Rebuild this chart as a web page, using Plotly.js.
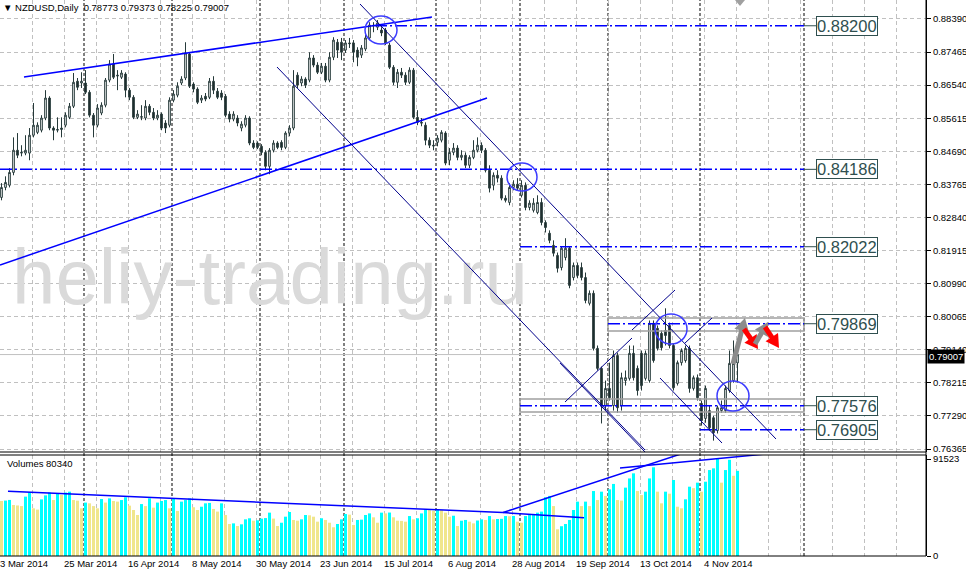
<!DOCTYPE html>
<html><head><meta charset="utf-8">
<script src="https://cdn.plot.ly/plotly-3.0.1.min.js"></script>
<style>html,body{margin:0;padding:0;background:#fff}#chart{width:966px;height:575px}</style>
</head><body><div id="chart"></div>
<script>
// ---- data (NZDUSD daily, 3 Mar 2014 .. 14 Nov 2014, bar index 0..184) ----
const open = [0.8340,0.8368,0.8374,0.8410,0.8472,0.8464,0.8464,0.8464,0.8514,0.8522,
0.8528,0.8562,0.8618,0.8534,0.8528,0.8530,0.8542,0.8564,0.8595,0.8665,
0.8660,0.8660,0.8634,0.8570,0.8542,0.8576,0.8598,0.8668,0.8713,0.8682,
0.8676,0.8685,0.8640,0.8620,0.8564,0.8564,0.8562,0.8595,0.8578,0.8562,
0.8573,0.8548,0.8542,0.8612,0.8626,0.8660,0.8674,0.8741,0.8657,0.8643,
0.8612,0.8623,0.8620,0.8665,0.8637,0.8632,0.8623,0.8573,0.8559,0.8562,
0.8534,0.8542,0.8562,0.8492,0.8492,0.8483,0.8466,0.8427,0.8472,0.8492,
0.8494,0.8480,0.8520,0.8534,0.8682,0.8660,0.8671,0.8668,0.8730,0.8710,
0.8690,0.8707,0.8668,0.8732,0.8774,0.8774,0.8752,0.8772,0.8772,0.8752,
0.8738,0.8755,0.8786,0.8819,0.8816,0.8808,0.8808,0.8766,0.8704,0.8662,
0.8690,0.8682,0.8662,0.8696,0.8564,0.8550,0.8542,0.8500,0.8486,0.8494,
0.8500,0.8520,0.8444,0.8466,0.8478,0.8452,0.8458,0.8430,0.8452,0.8472,
0.8486,0.8472,0.8416,0.8374,0.8402,0.8394,0.8338,0.8326,0.8368,0.8377,
0.8346,0.8374,0.8312,0.8304,0.8298,0.8326,0.8270,0.8240,0.8206,0.8178,
0.8144,0.8172,0.8198,0.8116,0.8150,0.8144,0.8116,0.8044,0.8072,0.7918,
0.7862,0.7758,0.7806,0.7758,0.7898,0.7758,0.7828,0.7834,0.7904,0.7862,
0.7904,0.7834,0.7828,0.7988,0.7974,0.7960,0.7968,0.7982,0.7926,0.7820,
0.7878,0.7884,0.7918,0.7806,0.7836,0.7764,0.7722,0.7744,0.7724,0.7688,
0.7744,0.7744,0.7800,0.7828,0.78773];
const high = [0.8380,0.8399,0.8422,0.8508,0.8520,0.8486,0.8514,0.8534,0.8604,0.8550,
0.8570,0.8640,0.8623,0.8539,0.8564,0.8564,0.8578,0.8604,0.8688,0.8674,
0.8690,0.8696,0.8640,0.8576,0.8601,0.8606,0.8674,0.8724,0.8741,0.8696,
0.8696,0.8690,0.8646,0.8626,0.8584,0.8598,0.8612,0.8601,0.8590,0.8584,
0.8578,0.8556,0.8620,0.8640,0.8662,0.8679,0.8774,0.8746,0.8662,0.8648,
0.8626,0.8632,0.8674,0.8679,0.8646,0.8640,0.8629,0.8581,0.8581,0.8570,
0.8553,0.8570,0.8567,0.8500,0.8497,0.8489,0.8472,0.8478,0.8500,0.8497,
0.8500,0.8525,0.8542,0.8696,0.8690,0.8679,0.8676,0.8746,0.8738,0.8718,
0.8716,0.8716,0.8746,0.8788,0.8783,0.8786,0.8780,0.8786,0.8780,0.8760,
0.8766,0.8794,0.8830,0.8830,0.8836,0.8816,0.8814,0.8772,0.8710,0.8699,
0.8702,0.8690,0.8704,0.8702,0.8584,0.8562,0.8550,0.8508,0.8500,0.8514,
0.8528,0.8525,0.8478,0.8492,0.8486,0.8472,0.8466,0.8458,0.8500,0.8508,
0.8494,0.8478,0.8430,0.8410,0.8416,0.8402,0.8346,0.8380,0.8388,0.8394,
0.8388,0.8382,0.8332,0.8338,0.8346,0.8338,0.8276,0.8248,0.8220,0.8186,
0.8203,0.8226,0.8203,0.8158,0.8158,0.8158,0.8130,0.8080,0.8080,0.7926,
0.7867,0.7828,0.7878,0.7912,0.7906,0.7850,0.7856,0.7926,0.7926,0.7870,
0.7912,0.7912,0.7996,0.7996,0.7982,0.7968,0.8030,0.7990,0.7932,0.7884,
0.7918,0.7926,0.7926,0.7842,0.7845,0.7772,0.7814,0.7758,0.7730,0.7758,
0.7772,0.7814,0.7912,0.7940,0.79373];
const low = [0.8332,0.8360,0.8368,0.8402,0.8450,0.8455,0.8458,0.8444,0.8508,0.8517,
0.8522,0.8556,0.8528,0.8500,0.8522,0.8508,0.8536,0.8559,0.8590,0.8640,
0.8646,0.8629,0.8564,0.8508,0.8536,0.8570,0.8592,0.8662,0.8671,0.8640,
0.8671,0.8620,0.8612,0.8559,0.8559,0.8556,0.8556,0.8570,0.8556,0.8556,
0.8528,0.8520,0.8536,0.8606,0.8620,0.8654,0.8668,0.8646,0.8634,0.8601,
0.8604,0.8609,0.8615,0.8629,0.8615,0.8612,0.8564,0.8550,0.8553,0.8539,
0.8525,0.8536,0.8486,0.8475,0.8475,0.8458,0.8416,0.8405,0.8466,0.8475,
0.8472,0.8475,0.8511,0.8528,0.8646,0.8651,0.8646,0.8662,0.8704,0.8685,
0.8685,0.8662,0.8662,0.8724,0.8730,0.8724,0.8744,0.8758,0.8718,0.8707,
0.8730,0.8749,0.8780,0.8802,0.8808,0.8791,0.8766,0.8699,0.8654,0.8646,
0.8674,0.8654,0.8657,0.8559,0.8542,0.8539,0.8486,0.8478,0.8472,0.8483,
0.8494,0.8430,0.8430,0.8458,0.8444,0.8444,0.8422,0.8422,0.8447,0.8466,
0.8464,0.8410,0.8354,0.8360,0.8382,0.8332,0.8326,0.8318,0.8360,0.8360,
0.8340,0.8304,0.8304,0.8298,0.8293,0.8262,0.8242,0.8212,0.8175,0.8130,
0.8136,0.8164,0.8086,0.8108,0.8114,0.8108,0.8044,0.8038,0.7912,0.7856,
0.7708,0.7744,0.7772,0.7744,0.7738,0.7744,0.7814,0.7828,0.7828,0.7786,
0.7800,0.7828,0.7822,0.7878,0.7912,0.7912,0.7926,0.7918,0.7800,0.7814,
0.7870,0.7878,0.7794,0.7800,0.7772,0.7702,0.7710,0.7688,0.7660,0.7680,
0.7738,0.7738,0.7794,0.7822,0.78225];
const close = [0.8368,0.8382,0.8410,0.8472,0.8458,0.8466,0.8472,0.8514,0.8542,0.8542,
0.8562,0.8618,0.8534,0.8528,0.8530,0.8534,0.8570,0.8595,0.8662,0.8648,
0.8665,0.8634,0.8570,0.8542,0.8590,0.8598,0.8668,0.8713,0.8676,0.8680,
0.8688,0.8640,0.8620,0.8564,0.8573,0.8566,0.8595,0.8578,0.8562,0.8570,
0.8534,0.8534,0.8612,0.8629,0.8651,0.8671,0.8744,0.8651,0.8643,0.8606,
0.8618,0.8615,0.8665,0.8640,0.8620,0.8620,0.8570,0.8559,0.8573,0.8548,
0.8545,0.8562,0.8492,0.8480,0.8480,0.8466,0.8427,0.8472,0.8492,0.8480,
0.8480,0.8520,0.8534,0.8651,0.8654,0.8671,0.8654,0.8730,0.8710,0.8690,
0.8707,0.8668,0.8732,0.8780,0.8752,0.8746,0.8772,0.8770,0.8746,0.8732,
0.8758,0.8786,0.8822,0.8821,0.8828,0.8800,0.8772,0.8704,0.8662,0.8690,
0.8682,0.8662,0.8696,0.8564,0.8550,0.8548,0.8500,0.8486,0.8484,0.8506,
0.8522,0.8436,0.8466,0.8478,0.8452,0.8458,0.8430,0.8452,0.8472,0.8486,
0.8472,0.8416,0.8366,0.8402,0.8394,0.8338,0.8332,0.8368,0.8377,0.8366,
0.8374,0.8312,0.8324,0.8324,0.8326,0.8270,0.8256,0.8220,0.8184,0.8142,
0.8198,0.8198,0.8094,0.8150,0.8122,0.8116,0.8052,0.8072,0.7918,0.7862,
0.7758,0.7806,0.7780,0.7898,0.7752,0.7836,0.7836,0.7904,0.7836,0.7800,
0.7814,0.7904,0.7988,0.7884,0.7918,0.7920,0.7954,0.7926,0.7808,0.7878,
0.7912,0.7918,0.7806,0.7836,0.7780,0.7716,0.7806,0.7696,0.7682,0.7752,
0.7752,0.7806,0.7876,0.7876,0.79007];
const volume = [51900,52300,52900,48100,47700,47100,56000,59900,45000,43800,
53400,57200,59900,52800,58600,57500,59900,60700,52800,52200,
45000,50400,49700,47100,45000,53800,50400,54400,51900,51300,
52800,55400,47500,43400,38700,49000,47100,54400,45600,50400,
51900,52800,45000,54400,42500,51300,52800,54400,46000,43400,
46500,49700,50100,44400,41900,49700,38700,30200,30800,28300,
29900,34600,35600,33300,33700,35300,35800,40900,35300,28300,
31400,37100,41500,34000,33300,34600,38700,38400,37100,32400,
35600,34000,31400,27100,30200,34600,39600,39000,29200,34000,
34300,38700,40200,36500,31400,40900,40200,41000,36500,33300,
33100,32400,37700,34600,35600,40200,44000,43400,42700,44000,
43400,40900,37100,38000,28300,33300,34000,32400,30800,33500,
34600,34000,37700,34600,34900,35100,37700,37500,37800,32400,
31400,37700,38700,39600,40900,41900,55400,56700,47100,25200,
28100,30200,34000,43400,51300,47100,51300,47100,61300,52800,
60700,56700,62900,68000,52800,52300,64500,73200,78000,61300,
57500,60700,73200,83700,60700,49700,60700,58800,71700,46500,
45000,53500,65400,64000,69200,60700,70100,81100,82700,91523,
69200,81100,90800,75700,80340];
const dateLabels = ["3 Mar 2014","25 Mar 2014","16 Apr 2014","8 May 2014","30 May 2014","23 Jun 2014",
  "15 Jul 2014","6 Aug 2014","28 Aug 2014","19 Sep 2014","13 Oct 2014","4 Nov 2014"];
const priceTicks = [0.76365,0.77290,0.78215,0.79140,0.80065,0.80990,0.81915,0.82840,0.83765,0.84690,0.85615,0.86540,0.87465,0.88390];
const levels = [0.88200,0.84186,0.82022,0.79869,0.77576,0.76905];
const lastQuote = {open:0.78773, high:0.79373, low:0.78225, close:0.79007, volume:80340};

// ---- drawing setup (positions / styles) ----
const idx = close.map((_, i) => i);
const XR = [-0.375, 231.125], YR = [0.76282, 0.88921];
const gridX = []; const gridText = [];
for (let k = 0; k <= 28; k++) { gridX.push(k * 8 - 0.375); gridText.push(k % 2 === 0 && k / 2 < dateLabels.length ? dateLabels[k / 2] : ''); }
const volColors = volume.map((v, i) => (i > 0 && v > volume[i - 1]) ? '#00ffff' : '#f0e68c');
const FONT = 'Liberation Sans, Arial, sans-serif';
const levelStart = [93.375, -0.375, 129.625, 151.625, 129.625, 174.625];
const levelEnd = 200.625, labelX = 203.625;
const separators = [20.625, 42.625, 64.625, 85.625, 108.625, 129.625, 151.625, 174.625, 200.625];
const PX = px => px / 4 - 0.375;
const PY = py => YR[1] - py * (YR[1] - YR[0]) / 452;

const shapes = [];
separators.forEach(x => shapes.push({type:'line', xref:'x', yref:'paper', x0:x, x1:x, y0:0, y1:1, layer:'below', line:{color:'#000', width:1, dash:'3px,2px'}}));
shapes.push({type:'line', xref:'x', yref:'y', x0:XR[0], x1:XR[1], y0:lastQuote.close, y1:lastQuote.close, layer:'below', line:{color:'#c0c0c0', width:1}});
shapes.push({type:'rect', xref:'x', yref:'y', x0:151.625, x1:200.625, y0:0.79665, y1:0.80029, line:{color:'#a0a0a0', width:1.5}});
shapes.push({type:'rect', xref:'x', yref:'y', x0:129.625, x1:200.625, y0:0.77400, y1:0.77764, line:{color:'#a0a0a0', width:1.5}});
levels.forEach((lv, k) => {
  shapes.push({type:'line', xref:'x', yref:'y', x0:levelStart[k], x1:levelEnd, y0:lv, y1:lv, line:{color:'#0000ff', width:1.5, dash:'12px,3px,2px,3px'}});
  shapes.push({type:'line', xref:'x', yref:'y', x0:levelEnd, x1:labelX, y0:lv, y1:lv, line:{color:'#2f4f4f', width:1}});
});
const tl = (x0,y0,x1,y1,c,w) => shapes.push({type:'line', xref:'x', yref:'y', x0, y0, x1, y1, line:{color:c, width:w}});
tl(5.625,0.86768,107.625,0.88446,'#0000ff',1.5);
tl(-0.375,0.81511,121.375,0.86181,'#0000ff',1.5);
tl(89.625,0.88809,193.625,0.76645,'#00008b',1);
tl(68.875,0.87047,160.875,0.76338,'#00008b',1);
tl(139.625,0.78770,160.875,0.76282,'#00008b',1);
tl(140.875,0.77680,157.625,0.79469,'#00008b',1);
tl(157.625,0.79693,168.375,0.80812,'#00008b',1);
tl(170.875,0.79330,177.625,0.80029,'#00008b',1);
tl(164.625,0.78351,180.125,0.76533,'#00008b',1);
const vl = (x0,y0,x1,y1) => shapes.push({type:'line', xref:'x2', yref:'y2', x0, y0, x1, y1, line:{color:'#0000ff', width:1.5}});
vl(1.625,61000,125.375,41000);
vl(125.375,41000,169.625,96000);
vl(125.375,41000,145.625,36000);
vl(154.625,83000,190.375,96000);
const cir = (x0,x1,y0,y1) => shapes.push({type:'circle', xref:'x', yref:'y', x0, x1, y0, y1, line:{color:'#3c3cff', width:1.5}});
cir(90.875,98.875,0.87691,0.88474);
cir(126.375,133.875,0.83580,0.84363);
cir(163.375,171.375,0.79302,0.80141);
cir(178.875,186.875,0.77428,0.78267);
function arrow(tx, ty, hx, hy, color) {
  const dx = hx - tx, dy = hy - ty, L = Math.hypot(dx, dy), ux = dx / L, uy = dy / L;
  const bx = hx - 13 * ux, by = hy - 13 * uy, nx = -uy, ny = ux;
  shapes.push({type:'line', xref:'x', yref:'y', x0:PX(tx), y0:PY(ty), x1:PX(bx + 2*ux), y1:PY(by + 2*uy), line:{color, width:5}});
  shapes.push({type:'path', xref:'x', yref:'y', fillcolor:color, line:{width:0},
    path:`M ${PX(hx)} ${PY(hy)} L ${PX(bx + 7.5*nx)} ${PY(by + 7.5*ny)} L ${PX(bx - 7.5*nx)} ${PY(by - 7.5*ny)} Z`});
}
arrow(733, 364, 745, 318, '#8c8c8c');
arrow(744, 329, 758, 349, '#ff0000');
arrow(755, 344, 768, 322, '#8c8c8c');
arrow(765, 327, 779, 348, '#ff0000');
shapes.push({type:'path', xref:'x', yref:'y', path:`M ${PX(735)} ${PY(0)} L ${PX(745)} ${PY(0)} L ${PX(740)} ${PY(6)} Z`, fillcolor:'#a0a0a0', line:{width:0}});
const pl = (x0,y0,x1,y1) => shapes.push({type:'line', xref:'paper', yref:'paper', x0, y0, x1, y1, line:{color:'#000', width:1}});
pl(0,0.18705,1,0.18705); pl(0,0.18165,1,0.18165); pl(0,0,1,0); pl(1,0,1,1);

const annotations = [];
levels.forEach(lv => annotations.push({xref:'x', yref:'y', x:labelX, y:lv, xanchor:'left', yanchor:'middle', text:lv.toFixed(5), showarrow:false,
  font:{family:FONT, size:16.5, color:'#2f4f4f'}, bgcolor:'#ffffff', bordercolor:'#2f4f4f', borderwidth:1, borderpad:0}));
annotations.push({xref:'paper', yref:'y', x:1, xshift:1, y:lastQuote.close, yshift:-2, xanchor:'left', yanchor:'middle', text:lastQuote.close.toFixed(5), showarrow:false,
  font:{family:FONT, size:9.5, color:'#ffffff'}, bgcolor:'#000000', borderpad:1});
annotations.push({xref:'paper', yref:'paper', x:0.0054, y:1 - 463/556, xanchor:'left', yanchor:'middle', text:'Volumes ' + lastQuote.volume, showarrow:false,
  font:{family:FONT, size:9.5, color:'#000'}});

const traces = [
  {type:'scatter', mode:'text', x:[2.625], y:[0.80952], text:['heliy-trading.ru'], textposition:'middle right',
   textfont:{family:FONT, size:78, color:'#dadada'}, hoverinfo:'skip', xaxis:'x', yaxis:'y', cliponaxis:true},
  {type:'candlestick', x:idx, open, high, low, close, xaxis:'x', yaxis:'y', whiskerwidth:0, hoverinfo:'skip',
   increasing:{line:{color:'#263a3a', width:1}, fillcolor:'#ffffff'},
   decreasing:{line:{color:'#263a3a', width:1}, fillcolor:'#1c2a2a'}},
  {type:'bar', x:idx, y:volume, xaxis:'x2', yaxis:'y2', marker:{color:volColors, line:{width:0}}, hoverinfo:'skip'}
];

const layout = {
  width:966, height:575, margin:{l:0, r:40, t:0, b:19, pad:0},
  paper_bgcolor:'#ffffff', plot_bgcolor:'#ffffff', showlegend:false,
  boxgap:0.4, bargap:0.25,
  title:{text:'▼ NZDUSD,Daily  0.78773 0.79373 0.78225 0.79007', xref:'container', yref:'container', x:3/966, xanchor:'left', y:1 - 8/575, yanchor:'middle',
    font:{family:FONT, size:9.5, color:'#000'}, pad:{t:0,b:0,l:0,r:0}},
  xaxis:{anchor:'y', domain:[0,1], range:XR, tickmode:'array', tickvals:gridX, showticklabels:false, ticks:'',
    showgrid:true, gridcolor:'#c0c0c0', gridwidth:1, griddash:'4px,3px', zeroline:false, showline:false, rangeslider:{visible:false}, fixedrange:true},
  xaxis2:{anchor:'y2', domain:[0,1], range:XR, tickmode:'array', tickvals:gridX, ticktext:gridText, ticks:'', ticklabelposition:'outside right',
    tickfont:{family:FONT, size:9.5, color:'#000'}, showgrid:true, gridcolor:'#c0c0c0', gridwidth:1, griddash:'4px,3px', zeroline:false, showline:false, fixedrange:true},
  yaxis:{anchor:'x', domain:[0.18705,1], side:'right', range:YR, tickmode:'array', tickvals:priceTicks, ticktext:priceTicks.map(v => v.toFixed(5)),
    ticks:'outside', ticklen:4, tickcolor:'#000', tickfont:{family:FONT, size:9.5, color:'#000'}, showline:true, linecolor:'#000', linewidth:1,
    showgrid:true, gridcolor:'#c0c0c0', gridwidth:1, griddash:'4px,3px', zeroline:false, fixedrange:true},
  yaxis2:{anchor:'x2', domain:[0,0.18165], side:'right', range:[0,95300], tickmode:'array', tickvals:[0,91523], ticktext:['0','91523'],
    ticks:'outside', ticklen:4, tickcolor:'#000', tickfont:{family:FONT, size:9.5, color:'#000'}, showline:true, linecolor:'#000', linewidth:1,
    showgrid:false, zeroline:false, fixedrange:true},
  shapes, annotations
};
Plotly.newPlot('chart', traces, layout, {staticPlot:true, displayModeBar:false});
</script>
</body></html>
